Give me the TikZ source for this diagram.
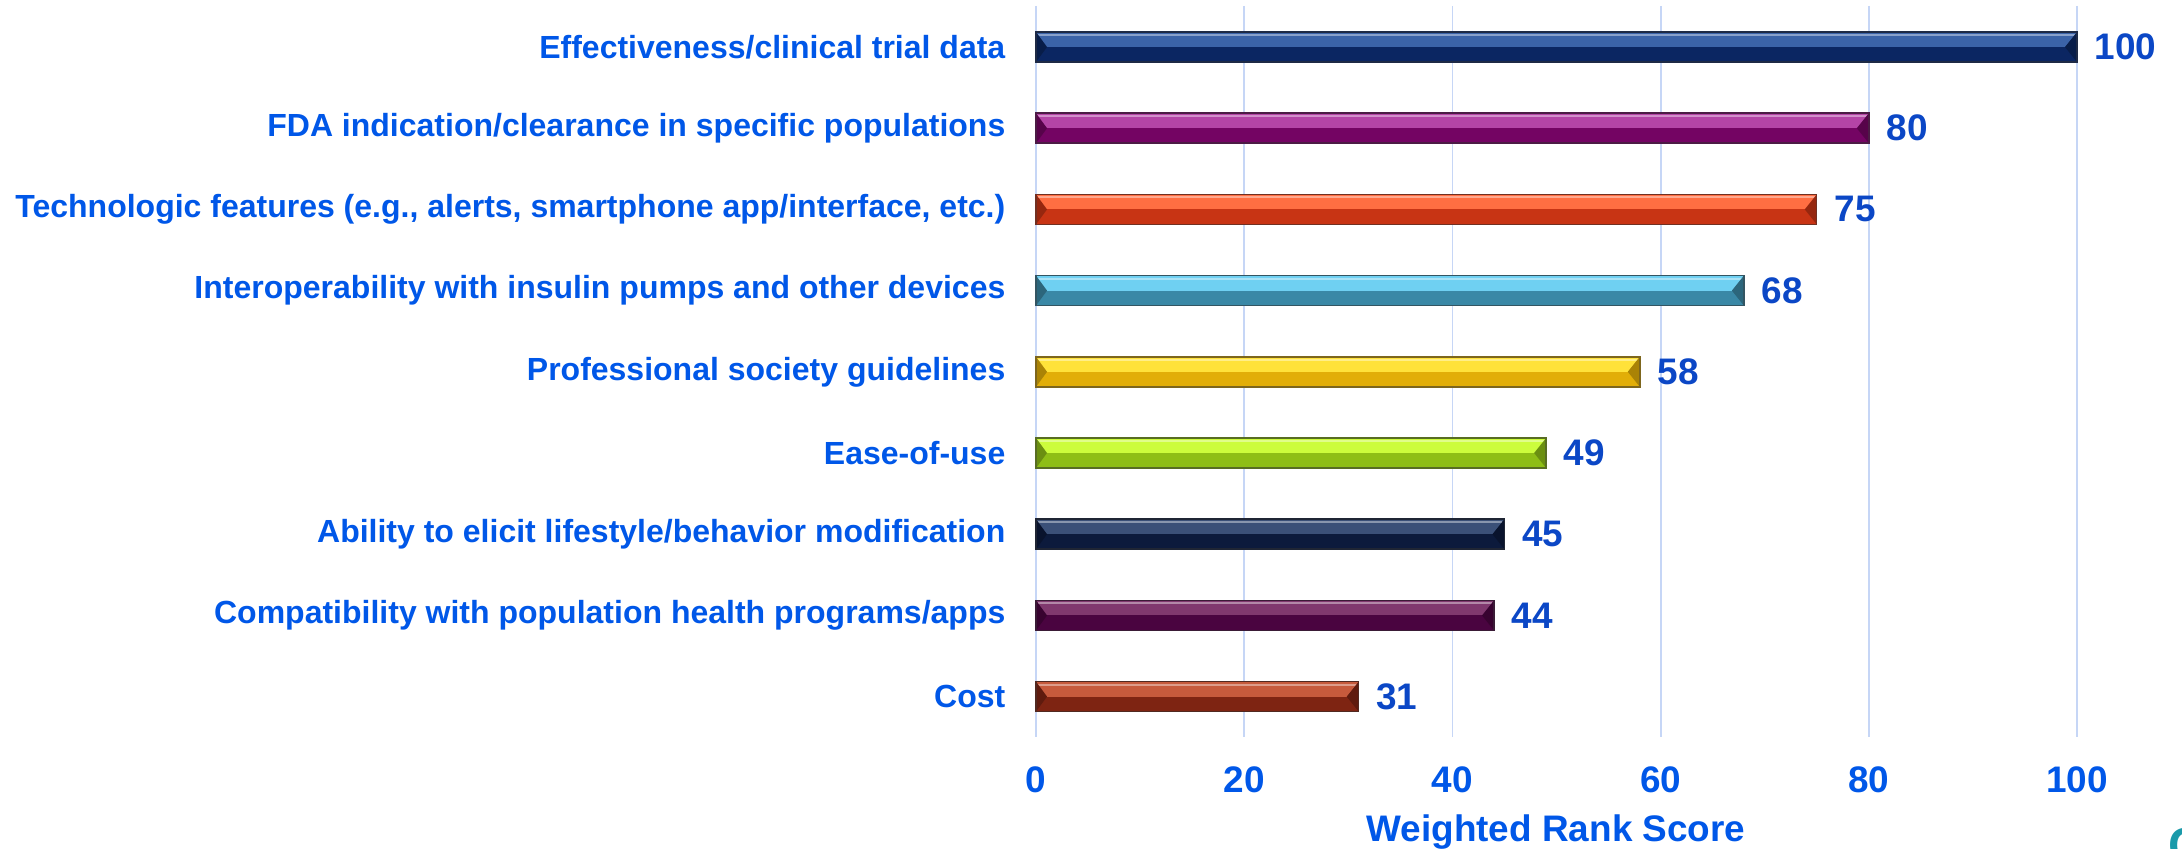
\documentclass[tikz,border=0pt]{standalone}
\usepackage{fontspec}
\setmainfont{Liberation Sans}
\usetikzlibrary{positioning}

\definecolor{labelblue}{HTML}{0057E8}
\definecolor{valueblue}{HTML}{0B47C6}
\definecolor{gridblue}{HTML}{C6D6F6}
\definecolor{tealmark}{HTML}{1A9AAA}
\definecolor{navyA}{HTML}{3B63A8}\definecolor{navyB}{HTML}{0B2662}
\definecolor{plumA}{HTML}{B444A6}\definecolor{plumB}{HTML}{740463}
\definecolor{redA}{HTML}{FF6E42}\definecolor{redB}{HTML}{C83414}
\definecolor{skyA}{HTML}{6FD0F2}\definecolor{skyB}{HTML}{3A88A6}
\definecolor{goldA}{HTML}{FFE23A}\definecolor{goldB}{HTML}{E2AE08}
\definecolor{limeA}{HTML}{CCFC3C}\definecolor{limeB}{HTML}{8EBE16}
\definecolor{inkA}{HTML}{3B5078}\definecolor{inkB}{HTML}{0C1A3C}
\definecolor{wineA}{HTML}{80386E}\definecolor{wineB}{HTML}{4A0440}
\definecolor{rustA}{HTML}{C65A3C}\definecolor{rustB}{HTML}{7E2412}

% bar: name, score, row, light colour, dark colour
\newcommand{\rankbar}[5]{%
  \pgfmathsetmacro{\barend}{1036+10.41*#2}
  \fill[#4] (1036,#3-15) rectangle (\barend,#3);
  \fill[#5] (1036,#3) rectangle (\barend,#3+15);
  \draw[#4!60!white, line width=0.6pt] (1038,#3-12) -- ({\barend-2},#3-12);
  \fill[#5!75!black] (1036,#3-15) -- (1047,#3) -- (1036,#3+15) -- cycle;
  \fill[#5!75!black] (\barend,#3-15) -- ({\barend-12},#3) -- (\barend,#3+15) -- cycle;
  \draw[#5!55!black!80!gray, line width=0.4pt] (1036,#3-15) rectangle (\barend,#3+15);
  \coordinate (#1) at (\barend,#3);
}

\begin{document}
\begin{tikzpicture}[x=0.01cm,y=-0.01cm,
    catlabel/.style={anchor=east,inner sep=0pt,text=labelblue,
      font=\fontsize{9.1}{10}\selectfont\bfseries},
    vallabel/.style={inner sep=0pt,text=valueblue,
      font=\fontsize{10.5}{12}\selectfont\bfseries},
    ticklabel/.style={inner sep=0pt,text=labelblue,
      font=\fontsize{10.5}{12}\selectfont\bfseries},
    gridline/.style={gridblue,line width=0.5pt}]
    \useasboundingbox (0,0) rectangle (2182,849);

    % grid
    \draw[gridline] (1036,6) -- (1036,737);
    \draw[gridline] (1244.2,6) -- (1244.2,737);
    \draw[gridline] (1452.4,6) -- (1452.4,737);
    \draw[gridline] (1660.6,6) -- (1660.6,737);
    \draw[gridline] (1868.8,6) -- (1868.8,737);
    \draw[gridline] (2077,6) -- (2077,737);

    % bars
    \rankbar{end1}{100}{47}{navyA}{navyB}
    \rankbar{end2}{80}{128.2}{plumA}{plumB}
    \rankbar{end3}{75}{209.4}{redA}{redB}
    \rankbar{end4}{68}{290.6}{skyA}{skyB}
    \rankbar{end5}{58}{371.8}{goldA}{goldB}
    \rankbar{end6}{49}{453}{limeA}{limeB}
    \rankbar{end7}{45}{534.2}{inkA}{inkB}
    \rankbar{end8}{44}{615.4}{wineA}{wineB}
    \rankbar{end9}{31}{696.6}{rustA}{rustB}

    % categories
    \node (cat1) [catlabel] at (1006,47) {Effectiveness/clinical trial data};
    \node (cat2) [catlabel] at (1006,128.2) {FDA indication/clearance in specific populations};
    \node (cat3) [catlabel] at (1006,209.4) {Technologic features (e.g., alerts, smartphone app/interface, etc.)};
    \node (cat4) [catlabel] at (1006,290.6) {Interoperability with insulin pumps and other devices};
    \node (cat5) [catlabel] at (1006,371.8) {Professional society guidelines};
    \node (cat6) [catlabel] at (1006,453) {Ease-of-use\ };
    \node (cat7) [catlabel] at (1006,534.2) {Ability to elicit lifestyle/behavior modification\ };
    \node (cat8) [catlabel] at (1006,615.4) {Compatibility with population health programs/apps};
    \node (cat9) [catlabel] at (1006,696.6) {Cost};

    % scores
    \node (val1) [vallabel, right=0.17cm of end1] {100};
    \node (val2) [vallabel, right=0.17cm of end2] {80};
    \node (val3) [vallabel, right=0.17cm of end3] {75};
    \node (val4) [vallabel, right=0.17cm of end4] {68};
    \node (val5) [vallabel, right=0.17cm of end5] {58};
    \node (val6) [vallabel, right=0.17cm of end6] {49};
    \node (val7) [vallabel, right=0.17cm of end7] {45};
    \node (val8) [vallabel, right=0.17cm of end8] {44};
    \node (val9) [vallabel, right=0.17cm of end9] {31};

    % axis
    \node (tick0) [ticklabel] at (1036,780) {0};
    \node (tick20) [ticklabel] at (1244.2,780) {20};
    \node (tick40) [ticklabel] at (1452.4,780) {40};
    \node (tick60) [ticklabel] at (1660.6,780) {60};
    \node (tick80) [ticklabel] at (1868.8,780) {80};
    \node (tick100) [ticklabel] at (2077,780) {100};
    \node (axistitle) [ticklabel, anchor=base] at (1556,841) {Weighted Rank Score};
    \node (corner) [anchor=north west, inner sep=0pt, text=tealmark,
      font=\fontsize{14}{14}\selectfont\bfseries] at (2168,827) {C};
\end{tikzpicture}
\end{document}
